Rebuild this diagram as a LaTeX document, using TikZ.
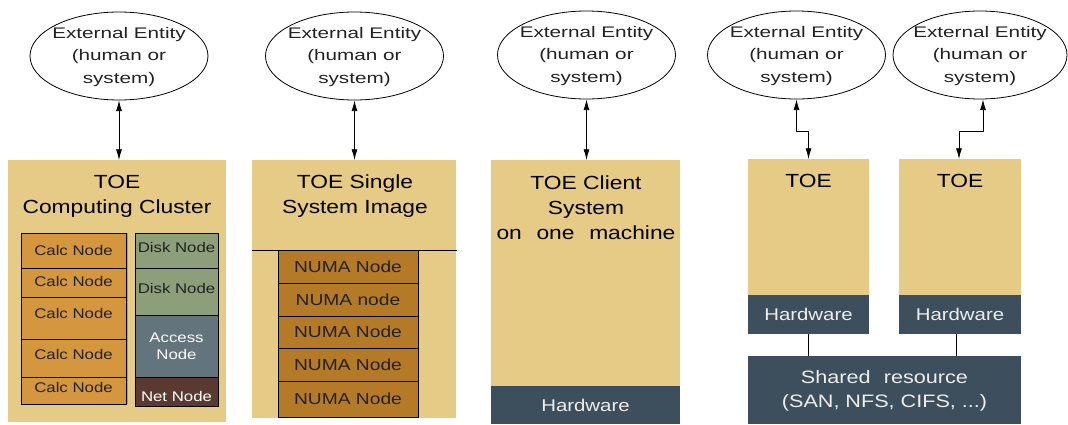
\documentclass[tikz,border=0pt]{standalone}
\usepackage{fontspec}
\setmainfont{Liberation Sans}[FakeStretch=1.2]
\newfontfamily\ellfont{Liberation Sans}[FakeStretch=1.35]
\usetikzlibrary{shapes.geometric,arrows.meta,calc}
\definecolor{tanbg}{HTML}{E6CB87}
\definecolor{hwdark}{HTML}{3D4F5C}
\definecolor{hwtext}{HTML}{EDEDED}
\definecolor{calcor}{HTML}{D4963E}
\definecolor{diskgr}{HTML}{8C9E7A}
\definecolor{accgr}{HTML}{64747C}
\definecolor{netbr}{HTML}{5A3A30}
\definecolor{numaor}{HTML}{B57A28}
\definecolor{txtdark}{HTML}{222222}
\newcommand{\liftby}[2]{\raisebox{#1}[\height][\depth]{#2}}
\newcommand{\boxat}[7]{%
  \pgfmathsetmacro\bxw{(#5-#3)*0.75}%
  \pgfmathsetmacro\bxh{(#6-#4)*0.75}%
  \node[#2,minimum width=\bxw pt,minimum height=\bxh pt] (#1) at ({(#3+#5)/2},{(#4+#6)/2}) {#7};}
\tikzset{
  base/.style={inner sep=0pt, outer sep=0pt, rectangle},
  tanbox/.style={base, fill=tanbg},
  hwbox/.style={base, fill=hwdark, text=hwtext, font=\fontsize{12.75pt}{15pt}\selectfont, text height=9.1pt, text depth=0pt},
  sharedbox/.style={base, fill=hwdark, text=hwtext, font=\fontsize{13.5pt}{18.75pt}\selectfont, align=center},
  cellbox/.style={base, draw=black, line width=0.7pt, font=\fontsize{10.5pt}{12.75pt}\selectfont},
  calcbox/.style={cellbox, fill=calcor, text=txtdark, text height=7.5pt, text depth=0pt},
  diskbox/.style={cellbox, fill=diskgr, text=txtdark, text height=7.5pt, text depth=0pt},
  accbox/.style={cellbox, fill=accgr, text=white, align=center},
  netbox/.style={cellbox, fill=netbr, text=white, text height=7.5pt, text depth=0pt},
  numabox/.style={base, draw=black, line width=0.7pt, fill=numaor, text=txtdark, font=\fontsize{12pt}{14pt}\selectfont, text height=8.6pt, text depth=0pt},
  ttl/.style={inner sep=0pt, anchor=north, align=center, text=black, font=\fontsize{14.25pt}{18.75pt}\selectfont},
  entity/.style={ellipse, draw=black, line width=0.6pt, fill=white, inner sep=0pt, minimum width=133.5pt, minimum height=66pt},
  etext/.style={inner sep=0pt, align=center, text=txtdark, font=\ellfont\fontsize{11.5pt}{16.9pt}\selectfont},
  conn/.style={line width=0.6pt, {Latex[length=8pt,width=4.5pt]}-{Latex[length=8pt,width=4.5pt]}},
  wire/.style={line width=0.7pt}
}
\begin{document}
\begin{tikzpicture}[x=0.75pt,y=-0.75pt]
\useasboundingbox (0,0) rectangle (1068,425);
\fill[white] (0,0) rectangle (1068,425);

% ---------- column 1: computing cluster
\boxat{c1}{tanbox}{8}{160}{226}{422}{}
\fill[calcor] (126,233) rectangle (128,404);
\boxat{ca1}{calcbox}{21}{233}{126}{268}{Calc Node}
\boxat{ca2}{calcbox}{21}{268}{126}{297}{\liftby{1.1pt}{Calc Node}}
\boxat{ca3}{calcbox}{21}{297}{126}{339}{\liftby{3.75pt}{Calc Node}}
\boxat{ca4}{calcbox}{21}{339}{126}{377}{\liftby{3pt}{Calc Node}}
\boxat{ca5}{calcbox}{21}{377}{126}{404}{\liftby{2.6pt}{Calc Node}}
\boxat{dk1}{diskbox}{135}{233}{218}{268}{\liftby{1.9pt}{Disk Node}}
\boxat{dk2}{diskbox}{135}{268}{218}{315}{\liftby{2.6pt}{Disk Node}}
\boxat{acc}{accbox}{135}{315}{218}{377}{Access\\Node}
\boxat{net}{netbox}{135}{377}{218}{406}{\liftby{-4.1pt}{Net Node}}
\node[ttl] (t1) at (117,175) {TOE\\Computing Cluster};

% ---------- column 2: single system image
\boxat{c2}{tanbox}{252}{160}{456}{418}{}
\boxat{n1}{numabox}{278}{250}{418}{283}{NUMA Node}
\boxat{n2}{numabox}{278}{283}{418}{316}{NUMA node}
\boxat{n3}{numabox}{278}{316}{418}{348}{NUMA Node}
\boxat{n4}{numabox}{278}{348}{418}{381}{NUMA Node}
\boxat{n5}{numabox}{278}{381}{418}{417}{NUMA Node}
\draw[wire] (c2.west |- n1.north) -- ([xshift=0.75pt]c2.east |- n1.north);
\node[ttl] (t2) at (355,174) {TOE Single\\System Image};

% ---------- column 3: client system
\boxat{c3}{tanbox}{491}{160}{680}{386}{}
\boxat{hw3}{hwbox}{491}{386}{680}{424}{Hardware}
\node[ttl] (t3) at (586,175) {TOE Client\\System\\on\hspace{11pt}one\hspace{11pt}machine};

% ---------- column 4: two TOEs with shared resource
\boxat{toeA}{tanbox}{748}{159}{869}{295}{}
\boxat{hwA}{hwbox}{748}{295}{869}{334}{Hardware}
\boxat{toeB}{tanbox}{899}{159}{1021}{295}{}
\boxat{hwB}{hwbox}{899}{295}{1021}{334}{Hardware}
\boxat{shared}{sharedbox}{748}{356}{1021}{424}{\liftby{-1.2pt}{Shared\hspace{10pt}resource}\\(SAN, NFS, CIFS, ...)}
\node[ttl] (t4) at (808.5,174) {TOE};
\node[ttl] (t5) at (960,174) {TOE};
\draw[wire] (hwA.south) -- (hwA.south |- shared.north);
\draw[wire] ([xshift=-3pt]hwB.south) -- ([xshift=-3pt]hwB.south |- shared.north);

% ---------- external entities
\node[entity] (e1) at (119,56) {};
\node[entity] (e2) at (354.5,56) {};
\node[entity] (e3) at (586.5,55) {};
\node[entity] (e4) at (796.5,55) {};
\node[entity, minimum width=130.5pt] (e5) at (980,55) {};
\foreach \e in {e1,e2,e3,e4,e5}{
  \node[etext] (\e txt) at ([yshift=-0.75pt]\e.center) {External Entity\\(human or\\system)};
}

% ---------- connectors
\draw[conn] (e1.south) -- (e1.south |- c1.north);
\draw[conn] (e2.south) -- (e2.south |- c2.north);
\draw[conn] (e3.south) -- (e3.south |- c3.north);
\coordinate (kink) at (0,131);
\draw[conn] (e4.south) -- (e4.south |- kink) -| (toeA.north);
\draw[conn] ([xshift=2.25pt]e5.south) -- ([xshift=2.25pt]e5.south |- kink) -| ([xshift=-0.75pt]toeB.north);
\end{tikzpicture}
\end{document}
